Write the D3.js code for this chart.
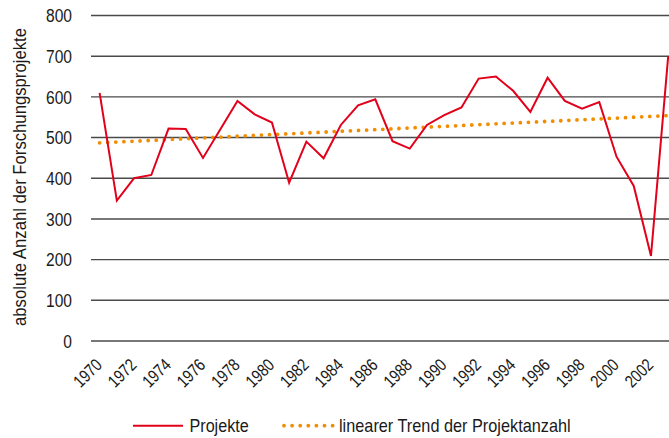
<!DOCTYPE html>
<html><head><meta charset="utf-8">
<script src="https://cdn.jsdelivr.net/npm/d3@7"></script>
<style>
body{margin:0;background:#fff;}
svg text{font-family:"Liberation Sans","Arial",sans-serif;fill:#1a1a1a;}
</style></head>
<body><svg id="c" width="669" height="438"></svg>
<script>
const years = d3.range(1970, 2004);
const projekte = [610,345,400,408,522,521,450,520,590,557,537,389,490,449,531,579,594,491,473,531,555,574,645,650,615,563,647,590,571,587,453,381,209,700];
const trendYears = [1970, 2003];
const trendValues = [487, 554];
const yTicks = [0,100,200,300,400,500,600,700,800];
const xTickYears = d3.range(1970, 2003, 2);

const NARROW = 0.82;
const svg = d3.select("#c");
const left = 91, bandW = 17.23;
const x = d3.scaleLinear().domain([1970, 2003]).range([left + bandW/2, left + bandW/2 + 33*bandW]);
const y = d3.scaleLinear().domain([0, 800]).range([341, 15.5]);

// gridlines
svg.append("g").selectAll("line").data(yTicks).join("line")
  .attr("x1", left).attr("x2", 669)
  .attr("y1", d => y(d)).attr("y2", d => y(d))
  .attr("stroke", "#4a4a4a").attr("stroke-width", 1.4);

// y tick labels
svg.append("g").selectAll("text").data(yTicks).join("text")
  .attr("transform", d => `translate(72,${y(d)}) scale(${NARROW},1)`)
  .attr("dy", "0.35em")
  .attr("text-anchor", "end").attr("font-size", 19).text(d => d);

// x tick labels
svg.append("g").selectAll("text").data(xTickYears).join("text")
  .attr("transform", d => `translate(${x(d)+3.5},366) rotate(-45) scale(${NARROW},1)`)
  .attr("text-anchor", "end").attr("font-size", 17.5).text(d => d);

// y axis title
svg.append("text")
  .attr("transform", `translate(25.5,177) rotate(-90) scale(0.88,1)`)
  .attr("text-anchor", "middle").attr("font-size", 19)
  .text("absolute Anzahl der Forschungsprojekte");

// trend
svg.append("path")
  .datum(trendYears.map((t,i)=>[t, trendValues[i]]))
  .attr("d", d3.line().x(d=>x(d[0])).y(d=>y(d[1])))
  .attr("fill","none").attr("stroke","#f28c00").attr("stroke-width",3.8)
  .attr("stroke-linecap","round").attr("stroke-dasharray","0 8.1");

// projekte line
svg.append("path")
  .datum(years.map((t,i)=>[t, projekte[i]]))
  .attr("d", d3.line().x(d=>x(d[0])).y(d=>y(d[1])))
  .attr("fill","none").attr("stroke","#e2001a").attr("stroke-width",2);

// legend
const lg = svg.append("g");
lg.append("line").attr("x1",133).attr("x2",183).attr("y1",425.7).attr("y2",425.7)
  .attr("stroke","#e2001a").attr("stroke-width",2);
lg.append("text").attr("transform",`translate(189.5,431.7) scale(0.85,1)`).attr("font-size",19).text("Projekte");
lg.append("line").attr("x1",284).attr("x2",334).attr("y1",425.7).attr("y2",425.7)
  .attr("stroke","#f28c00").attr("stroke-width",3.8).attr("stroke-linecap","round").attr("stroke-dasharray","0 8.1");
lg.append("text").attr("transform",`translate(339,431.7) scale(0.857,1)`).attr("font-size",19).text("linearer Trend der Projektanzahl");
</script></body></html>
